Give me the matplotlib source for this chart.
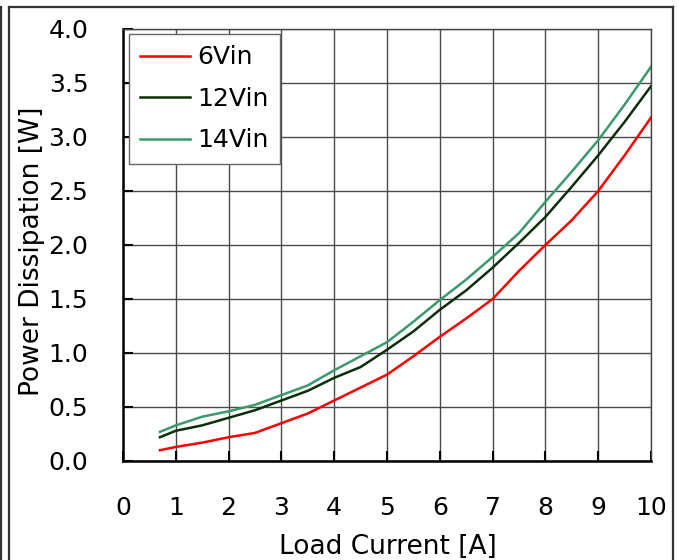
import numpy as np
import matplotlib
matplotlib.use('Agg')
import matplotlib.pyplot as plt
from matplotlib.lines import Line2D

plt.rcParams['font.family'] = ['DejaVu Sans']

# Load current [A] and power dissipation [W]
current = [0.7, 1.0, 1.5, 2.0, 2.5, 3.0, 3.5, 4.0, 4.5, 5.0, 5.5, 6.0,
           6.5, 7.0, 7.5, 8.0, 8.5, 9.0, 9.5, 10.0]
p_6vin = [0.10, 0.13, 0.17, 0.22, 0.26, 0.35, 0.44, 0.56, 0.68, 0.80, 0.97, 1.15,
          1.32, 1.50, 1.76, 2.00, 2.23, 2.50, 2.83, 3.18]
p_12vin = [0.22, 0.28, 0.33, 0.40, 0.47, 0.56, 0.65, 0.77, 0.87, 1.03, 1.20, 1.40,
           1.58, 1.79, 2.02, 2.26, 2.54, 2.83, 3.14, 3.47]
p_14vin = [0.27, 0.33, 0.41, 0.46, 0.52, 0.61, 0.70, 0.84, 0.97, 1.10, 1.29, 1.49,
           1.68, 1.89, 2.11, 2.40, 2.68, 2.97, 3.30, 3.65]

series = [
    ('6Vin', p_6vin, '#ff0000'),
    ('12Vin', p_12vin, '#0a2e0a'),
    ('14Vin', p_14vin, '#3a9a6c'),
]

W, H = 679, 560
fig = plt.figure(figsize=(W / 100, H / 100), dpi=100)
ax = fig.add_axes([123 / W, 1 - 461 / H, (651 - 123) / W, (461 - 29) / H])

for label, vals, color in series:
    ax.plot(current, vals, color=color, lw=1.8, label=label)

ax.set_xlim(0, 10)
ax.set_ylim(0, 4)
ax.set_xticks(np.arange(0, 11, 1))
ax.set_yticks(np.arange(0, 4.01, 0.5))
ax.set_yticklabels([f'{v:.1f}' for v in np.arange(0, 4.01, 0.5)])
ax.grid(True, color='#4a4a4a', lw=1.0)
ax.set_axisbelow(True)

ax.tick_params(axis='both', direction='in', length=7, width=1.5, color='black',
               labelsize=18, pad=25)
ax.tick_params(axis='y', pad=25)
ax.spines['left'].set_linewidth(1.8)
ax.spines['bottom'].set_linewidth(1.8)
ax.spines['left'].set_color('black')
ax.spines['bottom'].set_color('black')
for s in ('top', 'right'):
    ax.spines[s].set_color('#444444')
    ax.spines[s].set_linewidth(1.0)

ax.set_xlabel('Load Current [A]', fontsize=19)
ax.set_ylabel('Power Dissipation [W]', fontsize=19)
ax.xaxis.set_label_coords(0.502, -0.170)
ax.yaxis.set_label_coords(-0.148, 0.485)

leg = ax.legend(loc='upper left', fontsize=18, handlelength=2.0,
                handletextpad=0.28, borderpad=0.45, labelspacing=0.7,
                borderaxespad=0, bbox_to_anchor=(0.011, 0.988),
                fancybox=False, framealpha=1)
leg.get_frame().set_edgecolor('#666666')
leg.get_frame().set_linewidth(1.0)

# outer frame around the figure (cut off at the bottom)
fx = lambda px: px / W
fy = lambda py: 1 - py / H
for xs, ys in [((fx(8.5), fx(8.5)), (fy(6.5), -0.1)),
               ((fx(8.5), fx(673)), (fy(6.5), fy(6.5))),
               ((fx(673), fx(673)), (fy(6.5), -0.1)),
               ((fx(1), fx(1)), (fy(6.5), -0.1))]:
    fig.add_artist(Line2D(xs, ys, color='#333333', lw=1.6))

fig.savefig('out.png', dpi=100)
